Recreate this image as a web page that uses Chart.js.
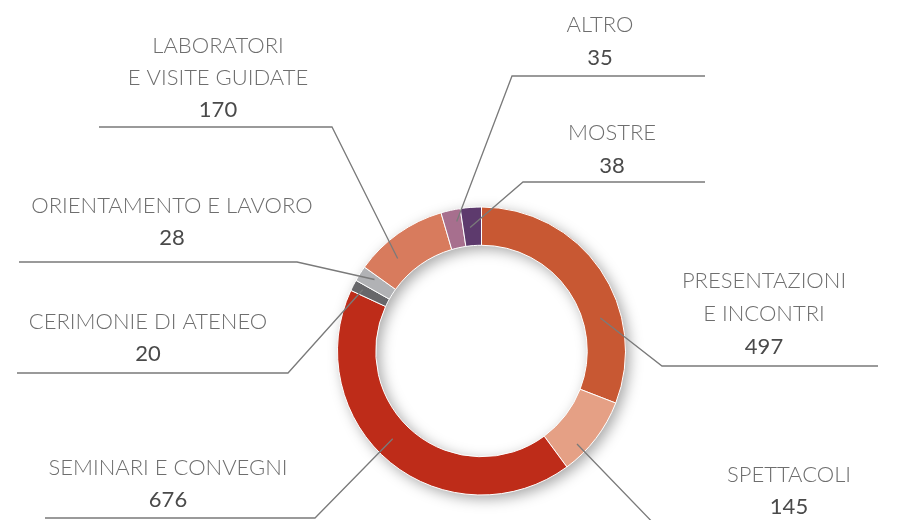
<!DOCTYPE html>
<html>
<head>
<meta charset="utf-8">
<script src="https://cdn.jsdelivr.net/npm/chart.js@4.4.0/dist/chart.umd.min.js"></script>
<style>
    html, body { margin: 0; padding: 0; background: #fff; }
    #wrap { width: 919px; height: 520px; }
</style>
</head>
<body>
<div id="wrap"><canvas id="eventsChart" width="919" height="520"></canvas></div>
<script>
// categories, clockwise from 12 o'clock
const categories = ['Presentazioni e incontri', 'Spettacoli', 'Seminari e convegni', 'Cerimonie di ateneo',
    'Orientamento e lavoro', 'Laboratori e visite guidate', 'Altro', 'Mostre'];
const labelLines = [['PRESENTAZIONI', 'E INCONTRI'], ['SPETTACOLI'], ['SEMINARI E CONVEGNI'], ['CERIMONIE DI ATENEO'],
    ['ORIENTAMENTO E LAVORO'], ['LABORATORI', 'E VISITE GUIDATE'], ['ALTRO'], ['MOSTRE']];
const eventCounts = [497, 145, 676, 20, 28, 170, 35, 38];
const sliceColors = ['#c85833', '#e5a085', '#be2c19', '#67676a', '#b1b2b5', '#d87b5d', '#a76f8e', '#5d3a6d'];

// callout layout: where the leader starts inside the slice (at = along arc, depth = across ring),
// elbow point, end of the horizontal rule, text centre and line positions
const calloutLayout = [
    { at: 0.67, depth: 0.46, elbow: [662, 366], endX: 878, textX: 764, textY: [281, 314, 347] },
    { at: 0.71, depth: 0.72, elbow: [660, 530], endX: 900, textX: 789, textY: [475, 507] },
    { at: 0.54, depth: 0.50, elbow: [315, 518], endX: 45, textX: 168, textY: [468, 500] },
    { at: 0.53, depth: 0.73, elbow: [288, 373], endX: 17, textX: 148, textY: [322, 354] },
    { at: 0.70, depth: 0.60, elbow: [297, 262], endX: 19, textX: 172, textY: [206, 238] },
    { at: 0.32, depth: 0.50, elbow: [332, 127], endX: 99, textX: 218, textY: [46, 78, 110] },
    { at: 0.70, depth: 0.68, elbow: [512, 76], endX: 705, textX: 600, textY: [25, 58] },
    { at: 0.38, depth: 0.48, elbow: [523, 182], endX: 705, textX: 612, textY: [133, 166] }
];

// soft drop shadow under the whole ring
const ringShadow = {
    id: 'ringShadow',
    beforeDatasetsDraw(chart) {
        const arc = chart.getDatasetMeta(0).data[0];
        const ctx = chart.ctx;
        ctx.save();
        ctx.shadowColor = 'rgba(0,0,0,0.35)';
        ctx.shadowBlur = 14;
        ctx.shadowOffsetX = 4;
        ctx.shadowOffsetY = 4;
        ctx.beginPath();
        ctx.arc(arc.x, arc.y, arc.outerRadius, 0, Math.PI * 2);
        ctx.arc(arc.x, arc.y, arc.innerRadius, 0, Math.PI * 2, true);
        ctx.fillStyle = '#bbb';
        ctx.fill();
        ctx.restore();
    }
};

// leader lines and labels
const callouts = {
    id: 'callouts',
    afterDatasetsDraw(chart) {
        const ctx = chart.ctx;
        const arcs = chart.getDatasetMeta(0).data;
        ctx.save();
        calloutLayout.forEach((c, i) => {
            const a = arcs[i];
            const ang = a.startAngle + c.at * (a.endAngle - a.startAngle);
            const r = a.innerRadius + c.depth * (a.outerRadius - a.innerRadius);
            const sx = a.x + r * Math.cos(ang);
            const sy = a.y + r * Math.sin(ang);

            ctx.beginPath();
            ctx.moveTo(sx, sy);
            ctx.lineTo(c.elbow[0], c.elbow[1]);
            ctx.lineTo(c.endX, c.elbow[1]);
            ctx.strokeStyle = '#7a7a7a';
            ctx.lineWidth = 1.3;
            ctx.stroke();

            ctx.textAlign = 'center';
            ctx.textBaseline = 'middle';
            const lines = labelLines[i];
            lines.forEach((txt, k) => {
                ctx.font = '300 22px Lato';
                ctx.fillStyle = '#6e6e6e';
                ctx.fillText(txt, c.textX, c.textY[k]);
            });
            ctx.font = '400 22px Lato';
            ctx.fillStyle = '#4a4a4a';
            ctx.fillText(String(eventCounts[i]), c.textX, c.textY[lines.length]);
        });
        ctx.restore();
    }
};

const chartConfig = {
    type: 'doughnut',
    data: {
        labels: categories,
        datasets: [{
            data: eventCounts,
            backgroundColor: sliceColors,
            borderColor: '#ffffff',
            borderWidth: 1,
            hoverOffset: 0
        }]
    },
    options: {
        responsive: false,
        animation: false,
        radius: 144,
        cutout: 105,
        layout: {
            padding: { left: 338, right: 294, top: 207, bottom: 25 }
        },
        plugins: {
            legend: { display: false },
            tooltip: { enabled: false }
        }
    },
    plugins: [ringShadow, callouts]
};

new Chart(document.getElementById('eventsChart'), chartConfig);
</script>
</body>
</html>
